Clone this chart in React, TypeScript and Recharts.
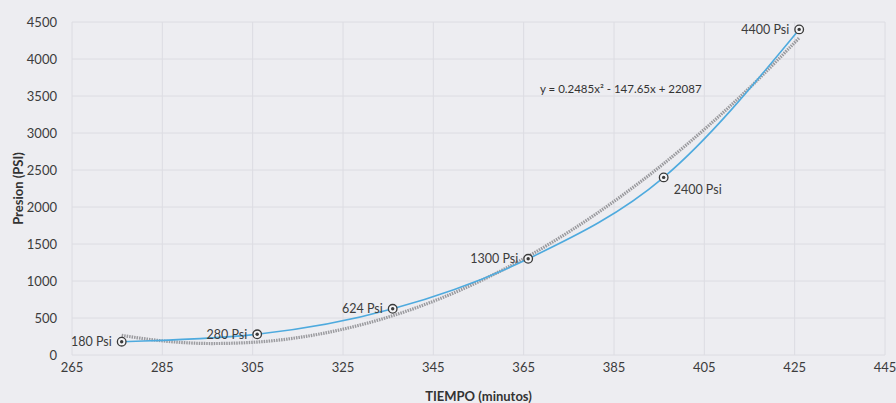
import React from "react";
import {
  LineChart,
  Line,
  XAxis,
  YAxis,
  CartesianGrid,
  LabelList,
  ReferenceDot,
} from "recharts";

const tiempo = [276, 306, 336, 366, 396, 426];
const presion = [180, 280, 624, 1300, 2400, 4400];
const etiquetas = ["180 Psi", "280 Psi", "624 Psi", "1300 Psi", "2400 Psi", "4400 Psi"];

const trendX = [276, 286, 296, 306, 316, 326, 336, 346, 356, 366, 376, 386, 396, 406, 416, 426];
const trendY = [265, 185, 155, 175, 244, 363, 531, 750, 1018, 1335, 1703, 2120, 2586, 3103, 3669, 4285];

const xTicks = [265, 285, 305, 325, 345, 365, 385, 405, 425, 445];
const yTicks = [0, 500, 1000, 1500, 2000, 2500, 3000, 3500, 4000, 4500];

const ecuacion = "y = 0.2485x\u00B2 - 147.65x + 22087";

const FONT = "Lato, 'Open Sans', sans-serif";

const points = tiempo.map((t, i) => ({ t, p: presion[i], label: etiquetas[i] }));
const trend = trendX.map((t, i) => ({ t, p: trendY[i] }));

const Marker = (props: any) => {
  const { cx, cy } = props;
  if (cx == null || cy == null) return null;
  return (
    <g>
      <circle cx={cx} cy={cy} r={4.3} fill="#f4f4f6" stroke="#3a3a3a" strokeWidth={1.3} />
      <circle cx={cx} cy={cy} r={1.7} fill="#3a3a3a" />
    </g>
  );
};

const PointLabel = (props: any) => {
  const { x, y, value, index } = props;
  const right = index === 4;
  return (
    <text
      x={right ? x + 10 : x - 10}
      y={right ? y + 12 : y}
      dy="0.35em"
      textAnchor={right ? "start" : "end"}
      fontSize={12.5}
      fontFamily={FONT}
      fill="#3c3c3c"
    >
      {value}
    </text>
  );
};

export default function App() {
  return (
    <div
      style={{
        position: "absolute",
        left: 0,
        top: 0,
        width: 896,
        height: 403,
        background: "#ededf1",
      }}
    >
      <LineChart
        width={896}
        height={403}
        margin={{ top: 22, right: 11, bottom: 0, left: 0 }}
      >
        <CartesianGrid stroke="#dcdce2" strokeWidth={1} />
        <XAxis
          dataKey="t"
          type="number"
          domain={[265, 445]}
          ticks={xTicks}
          allowDuplicatedCategory={false}
          axisLine={false}
          tickLine={false}
          tickSize={0}
          tickMargin={8}
          height={48}
          tick={{ fontSize: 13, fontFamily: FONT, fill: "#3c3c3c" }}
          label={{
            value: "TIEMPO (minutos)",
            position: "insideBottom",
            offset: 2,
            style: { fontSize: 13, fontWeight: 700, fontFamily: FONT, fill: "#333" },
          }}
        />
        <YAxis
          type="number"
          domain={[0, 4500]}
          ticks={yTicks}
          axisLine={false}
          tickLine={false}
          tickSize={0}
          tickMargin={15}
          width={72}
          tick={{ fontSize: 13, fontFamily: FONT, fill: "#3c3c3c" }}
          label={{
            value: "Presion (PSI)",
            angle: -90,
            position: "insideLeft",
            offset: 18,
            textAnchor: "middle",
            style: { fontSize: 13, fontWeight: 700, fontFamily: FONT, fill: "#333", textAnchor: "middle" },
          }}
        />
        <Line
          data={trend}
          dataKey="p"
          type="monotone"
          stroke="#9a9a9e"
          strokeWidth={3.2}
          strokeDasharray="1.5 1"
          dot={false}
          activeDot={false}
          isAnimationActive={false}
        />
        <Line
          data={points}
          dataKey="p"
          type="monotone"
          stroke="#4eaade"
          strokeWidth={1.6}
          dot={<Marker />}
          activeDot={false}
          isAnimationActive={false}
        >
          <LabelList dataKey="label" content={<PointLabel />} />
        </Line>
        <ReferenceDot
          x={386.5}
          y={3600}
          r={0}
          fill="none"
          stroke="none"
          label={{
            value: ecuacion,
            position: "center",
            style: { fontSize: 11.5, fontFamily: FONT, fill: "#333" },
          }}
        />
      </LineChart>
    </div>
  );
}
